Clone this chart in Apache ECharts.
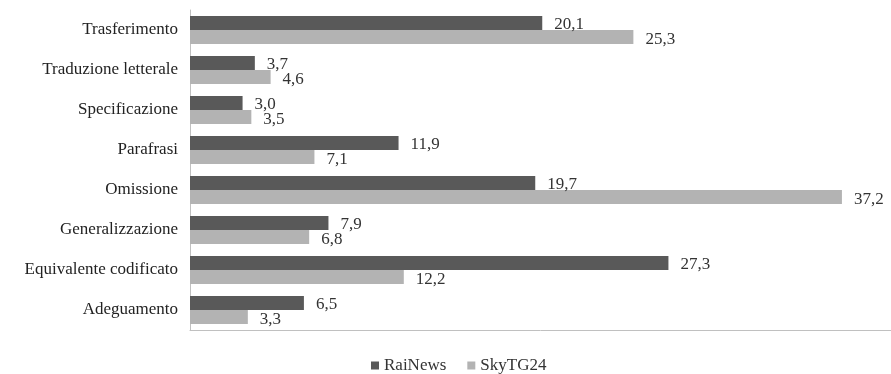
<!DOCTYPE html>
<html><head><meta charset="utf-8">
<script src="https://cdn.jsdelivr.net/npm/echarts@6/dist/echarts.min.js"></script>
<style>html,body{margin:0;padding:0;background:#fff}#c{width:891px;height:374px}</style>
</head><body><div id="c"></div>
<script>
const categories = ['Trasferimento','Traduzione letterale','Specificazione','Parafrasi','Omissione','Generalizzazione','Equivalente codificato','Adeguamento'];
const raiNews = [20.1, 3.7, 3.0, 11.9, 19.7, 7.9, 27.3, 6.5];
const skyTG24 = [25.3, 4.6, 3.5, 7.1, 37.2, 6.8, 12.2, 3.3];
const seriesNames = ['RaiNews','SkyTG24'];
const fmt = p => p.value.toFixed(1).replace('.', ',');
const font = 'Liberation Serif, Times New Roman, serif';
const chart = echarts.init(document.getElementById('c'));
chart.setOption({
  animation: false,
  textStyle: {fontFamily: font},
  grid: {left: 190, top: 10, width: 705, bottom: 44, containLabel: false},
  legend: {top: 352, left: 366, itemWidth: 8, itemHeight: 8, itemGap: 21, itemTextGap: 4, icon: 'rect',
    textStyle: {fontFamily: font, fontSize: 17, color: '#333'}, data: seriesNames},
  xAxis: {type: 'value', min: 0, max: 40, axisLabel: {show: false}, axisTick: {show: false},
    splitLine: {show: false}, axisLine: {show: true, lineStyle: {color: '#c0c0c0', width: 1}}},
  yAxis: {type: 'category', inverse: true, data: categories,
    axisTick: {show: false}, axisLine: {show: true, lineStyle: {color: '#c0c0c0'}},
    axisLabel: {fontFamily: font, fontSize: 17, color: '#222', margin: 12}},
  series: [
    {name: seriesNames[0], type: 'bar', data: raiNews, barGap: '0%', barCategoryGap: '30%',
      itemStyle: {color: '#595959'},
      label: {show: true, position: 'right', distance: 12, offset: [0, 2], formatter: fmt, fontFamily: font, fontSize: 17, color: '#333'}},
    {name: seriesNames[1], type: 'bar', data: skyTG24, barGap: '0%', barCategoryGap: '30%',
      itemStyle: {color: '#b3b3b3'},
      label: {show: true, position: 'right', distance: 12, offset: [0, 3], formatter: fmt, fontFamily: font, fontSize: 17, color: '#333'}}
  ]
});
</script></body></html>
